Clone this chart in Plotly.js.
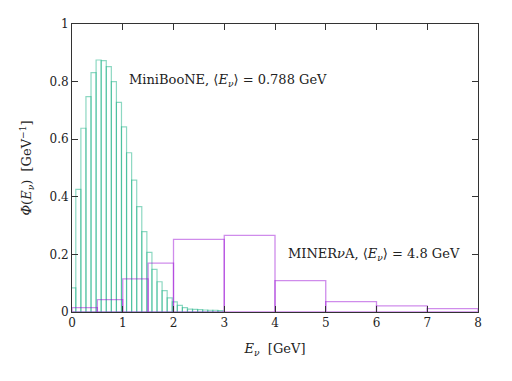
<!DOCTYPE html>
<html>
<head>
<meta charset="utf-8">
<script src="https://cdn.plot.ly/plotly-3.0.1.min.js"></script>
<style>
  body { margin: 0; background: #fff; }
  #chart { width: 512px; height: 381px; }
</style>
</head>
<body>
<div id="chart"></div>
<script>
// MiniBooNE flux, bins of 0.1 GeV (lower edges)
const booneLow = [-0.025, 0.075, 0.175, 0.275, 0.375, 0.475, 0.575, 0.675, 0.775, 0.875,
    0.975, 1.075, 1.175, 1.275, 1.375, 1.475, 1.575, 1.675, 1.775, 1.875,
    1.975, 2.075, 2.175, 2.275, 2.375, 2.475, 2.575, 2.675, 2.775, 2.875];
const booneFlux = [0.084, 0.426, 0.638, 0.748, 0.831, 0.875, 0.873, 0.852, 0.800, 0.728,
    0.643, 0.553, 0.458, 0.366, 0.279, 0.207, 0.148, 0.105, 0.074, 0.049,
    0.035, 0.023, 0.015, 0.010, 0.009, 0.008, 0.007, 0.006, 0.006, 0.005];

// MINERvA flux, variable bins
const minervaEdges = [0, 0.5, 1, 1.5, 2, 3, 4, 5, 6, 7, 8];
const minervaFlux = [0.015, 0.043, 0.115, 0.170, 0.252, 0.266, 0.109, 0.036, 0.021, 0.012];

const booneWidth = 0.1;

const serif = 'DejaVu Serif';

const traces = [
    {
        type: 'bar',
        x: booneLow.map(e => e + booneWidth / 2),
        y: booneFlux,
        width: booneLow.map(() => booneWidth),
        marker: { color: 'rgba(0,0,0,0)', line: { color: 'rgba(0,168,120,0.45)', width: 1.2 } },
        hoverinfo: 'x+y'
    },
    {
        type: 'bar',
        x: minervaFlux.map((v, i) => (minervaEdges[i] + minervaEdges[i + 1]) / 2),
        y: minervaFlux,
        width: minervaFlux.map((v, i) => minervaEdges[i + 1] - minervaEdges[i]),
        marker: { color: 'rgba(0,0,0,0)', line: { color: 'rgba(148,0,211,0.45)', width: 1.3 } },
        hoverinfo: 'x+y'
    }
];

const layout = {
    width: 512,
    height: 381,
    margin: { l: 72, r: 34, t: 24, b: 69 },
    barmode: 'overlay',
    showlegend: false,
    paper_bgcolor: '#fff',
    plot_bgcolor: '#fff',
    font: { family: serif, size: 13, color: '#222' },
    xaxis: {
        range: [0, 8],
        dtick: 1,
        ticks: 'inside',
        ticklen: 6,
        tickcolor: '#333',
        showline: true,
        linecolor: '#333',
        linewidth: 1,
        mirror: 'ticks',
        showgrid: false,
        zeroline: false,
        tickfont: { family: serif, size: 12 },
        title: { text: '<i>E</i><sub><i>ν</i></sub>  [GeV]', font: { family: serif, size: 13 }, standoff: 14 }
    },
    yaxis: {
        range: [0, 1],
        dtick: 0.2,
        ticks: 'inside',
        ticklen: 6,
        tickcolor: '#333',
        showline: true,
        linecolor: '#333',
        linewidth: 1,
        mirror: 'ticks',
        showgrid: false,
        zeroline: false,
        tickfont: { family: serif, size: 12 },
        title: { text: '<i>Φ</i>(<i>E</i><sub><i>ν</i></sub>)  [GeV<sup>−1</sup>]', font: { family: serif, size: 13 }, standoff: 14 }
    },
    annotations: [
        {
            x: 1.09, y: 0.805, xref: 'x', yref: 'y',
            xanchor: 'left', yanchor: 'middle', showarrow: false,
            text: 'MiniBooNE, ⟨<i>E</i><sub><i>ν</i></sub>⟩ = 0.788 GeV',
            font: { family: serif, size: 13, color: '#222' }
        },
        {
            x: 4.22, y: 0.2, xref: 'x', yref: 'y',
            xanchor: 'left', yanchor: 'middle', showarrow: false,
            text: 'MINER<i>ν</i>A, ⟨<i>E</i><sub><i>ν</i></sub>⟩ = 4.8 GeV',
            font: { family: serif, size: 13, color: '#222' }
        }
    ]
};

Plotly.newPlot('chart', traces, layout, { displayModeBar: false, staticPlot: true });
</script>
</body>
</html>
